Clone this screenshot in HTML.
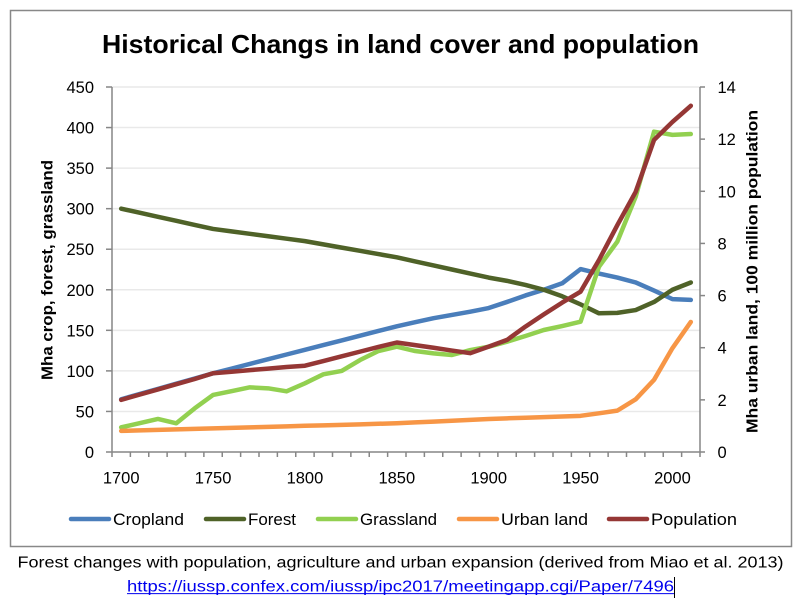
<!DOCTYPE html>
<html>
<head>
<meta charset="utf-8">
<style>
  html,body{margin:0;padding:0;background:#fff;}
  svg{display:block;}
  text{font-family:"Liberation Sans",sans-serif;fill:#000;}
</style>
</head>
<body>
<svg width="800" height="602" viewBox="0 0 800 602" xmlns="http://www.w3.org/2000/svg">
  <rect x="0" y="0" width="800" height="602" fill="#fff"/>
  <!-- chart border -->
  <rect x="10.5" y="10.5" width="781" height="536" fill="#fff" stroke="#888" stroke-width="1.5"/>

  <!-- title -->
  <text x="400.5" y="53" font-size="26" font-weight="bold" text-anchor="middle" textLength="597" lengthAdjust="spacingAndGlyphs">Historical Changs in land cover and population</text>

  <!-- gridlines -->
  <g stroke="#e9e9e9" stroke-width="1.5">
    <line x1="112" y1="87" x2="700" y2="87"/>
    <line x1="112" y1="127.56" x2="700" y2="127.56"/>
    <line x1="112" y1="168.11" x2="700" y2="168.11"/>
    <line x1="112" y1="208.67" x2="700" y2="208.67"/>
    <line x1="112" y1="249.22" x2="700" y2="249.22"/>
    <line x1="112" y1="289.78" x2="700" y2="289.78"/>
    <line x1="112" y1="330.33" x2="700" y2="330.33"/>
    <line x1="112" y1="370.89" x2="700" y2="370.89"/>
    <line x1="112" y1="411.44" x2="700" y2="411.44"/>
  </g>

  <!-- axes -->
  <g stroke="#868686" stroke-width="1.5" fill="none">
    <line x1="112" y1="87" x2="112" y2="452"/>
    <line x1="700" y1="87" x2="700" y2="452"/>
    <line x1="112" y1="452" x2="700" y2="452"/>
    <!-- left ticks -->
    <line x1="106" y1="87" x2="112" y2="87"/>
    <line x1="106" y1="127.56" x2="112" y2="127.56"/>
    <line x1="106" y1="168.11" x2="112" y2="168.11"/>
    <line x1="106" y1="208.67" x2="112" y2="208.67"/>
    <line x1="106" y1="249.22" x2="112" y2="249.22"/>
    <line x1="106" y1="289.78" x2="112" y2="289.78"/>
    <line x1="106" y1="330.33" x2="112" y2="330.33"/>
    <line x1="106" y1="370.89" x2="112" y2="370.89"/>
    <line x1="106" y1="411.44" x2="112" y2="411.44"/>
    <line x1="106" y1="452" x2="112" y2="452"/>
    <!-- right ticks -->
    <line x1="700" y1="87" x2="705" y2="87"/>
    <line x1="700" y1="139.14" x2="705" y2="139.14"/>
    <line x1="700" y1="191.29" x2="705" y2="191.29"/>
    <line x1="700" y1="243.43" x2="705" y2="243.43"/>
    <line x1="700" y1="295.57" x2="705" y2="295.57"/>
    <line x1="700" y1="347.71" x2="705" y2="347.71"/>
    <line x1="700" y1="399.86" x2="705" y2="399.86"/>
    <line x1="700" y1="452" x2="705" y2="452"/>
    <!-- x ticks -->
    <path d="M112 452v5M130.375 452v5M148.75 452v5M167.125 452v5M185.5 452v5M203.875 452v5M222.25 452v5M240.625 452v5M259 452v5M277.375 452v5M295.75 452v5M314.125 452v5M332.5 452v5M350.875 452v5M369.25 452v5M387.625 452v5M406 452v5M424.375 452v5M442.75 452v5M461.125 452v5M479.5 452v5M497.875 452v5M516.25 452v5M534.625 452v5M553 452v5M571.375 452v5M589.75 452v5M608.125 452v5M626.5 452v5M644.875 452v5M663.25 452v5M681.625 452v5M700 452v5"/>
  </g>

  <!-- left tick labels -->
  <g font-size="16.5" text-anchor="end">
    <text x="94" y="93">450</text>
    <text x="94" y="133.56">400</text>
    <text x="94" y="174.11">350</text>
    <text x="94" y="214.67">300</text>
    <text x="94" y="255.22">250</text>
    <text x="94" y="295.78">200</text>
    <text x="94" y="336.33">150</text>
    <text x="94" y="376.89">100</text>
    <text x="94" y="417.44">50</text>
    <text x="94" y="458">0</text>
  </g>
  <!-- right tick labels -->
  <g font-size="16.5" text-anchor="start">
    <text x="717.5" y="93">14</text>
    <text x="717.5" y="145.14">12</text>
    <text x="717.5" y="197.29">10</text>
    <text x="717.5" y="249.43">8</text>
    <text x="717.5" y="301.57">6</text>
    <text x="717.5" y="353.71">4</text>
    <text x="717.5" y="405.86">2</text>
    <text x="717.5" y="458">0</text>
  </g>
  <!-- x labels -->
  <g font-size="16.5" text-anchor="middle">
    <text x="121.19" y="483.5">1700</text>
    <text x="213.06" y="483.5">1750</text>
    <text x="304.94" y="483.5">1800</text>
    <text x="396.81" y="483.5">1850</text>
    <text x="488.69" y="483.5">1900</text>
    <text x="580.56" y="483.5">1950</text>
    <text x="672.44" y="483.5">2000</text>
  </g>

  <!-- axis titles -->
  <text transform="translate(52.5,270) rotate(-90)" font-size="15.5" font-weight="bold" text-anchor="middle" textLength="220" lengthAdjust="spacingAndGlyphs">Mha crop, forest, grassland</text>
  <text transform="translate(757.5,271.5) rotate(-90)" font-size="15.5" font-weight="bold" text-anchor="middle" textLength="323" lengthAdjust="spacingAndGlyphs">Mha urban land, 100 million population</text>

  <!-- series (left axis) -->
  <g transform="translate(121.1875,452) scale(1.8375,-0.811111)" fill="none" stroke-width="4.5" stroke-linejoin="round" stroke-linecap="round">
    <polyline vector-effect="non-scaling-stroke" stroke="#4A7EBB" points="0,65 10,71.4 20,77.8 30,84.2 40,90.6 50,97 60,102.8 70,108.6 80,114.4 90,120.2 100,126 110,131.8 120,137.6 130,143.4 140,149.2 150,155 160,160 170,165 180,169 190,173 200,177.5 210,185 220,193 230,200 240,208 250,225.5 260,220 270,215 280,209 290,199 300,188.5 310,187.5"/>
    <polyline vector-effect="non-scaling-stroke" stroke="#4F6228" points="0,300 10,295 20,290 30,285 40,280 50,275 60,272 70,269 80,266 90,263 100,260 110,256 120,252 130,248 140,244 150,240 160,235 170,230 180,225 190,220 200,215 210,211 220,206 230,200 240,192 250,182 260,171 270,171.5 280,175 290,185 300,200 310,209"/>
    <polyline vector-effect="non-scaling-stroke" stroke="#92D050" points="0,30.4 10,35.5 20,40.7 30,35.4 40,53.8 50,70.3 60,75 70,79.7 80,78.5 90,74.8 100,84.7 110,95.8 120,99.9 130,113.4 140,124.5 150,129.8 160,124.5 170,121.6 180,119.6 190,125.7 200,129.8 210,136 220,143 230,150.4 240,155.3 250,160.7 260,228.4 270,259.3 280,314.8 290,394.9 300,391 310,392"/>
    <polyline vector-effect="non-scaling-stroke" stroke="#F79646" points="0,26 10,26.6 20,27.3 30,27.9 40,28.5 50,29.1 60,29.8 70,30.4 80,31 90,31.6 100,32.3 110,32.9 120,33.5 130,34.1 140,34.8 150,35.4 160,36.5 170,37.5 180,38.6 190,39.6 200,40.7 210,41.5 220,42.3 230,43 240,43.8 250,44.6 260,47.7 270,51 280,65 290,89 300,128 310,160.3"/>
  </g>
  <!-- population (right axis) -->
  <g transform="translate(121.1875,452) scale(1.8375,-26.071429)" fill="none" stroke-width="4.5" stroke-linejoin="round" stroke-linecap="round">
    <polyline vector-effect="non-scaling-stroke" stroke="#953735" points="0,2.0 10,2.2 20,2.4 30,2.6 40,2.8 50,3.02 60,3.08 70,3.14 80,3.2 90,3.26 100,3.31 110,3.49 120,3.67 130,3.85 140,4.03 150,4.2 160,4.1 170,4.0 180,3.89 190,3.79 200,4.04 210,4.3 220,4.81 230,5.28 240,5.73 250,6.15 260,7.36 270,8.7 280,9.98 290,11.97 300,12.66 310,13.28"/>
  </g>

  <!-- legend -->
  <g stroke-width="4.5" stroke-linecap="round">
    <line x1="71" y1="519" x2="109" y2="519" stroke="#4A7EBB"/>
    <line x1="206" y1="519" x2="244" y2="519" stroke="#4F6228"/>
    <line x1="318" y1="519" x2="356" y2="519" stroke="#92D050"/>
    <line x1="459" y1="519" x2="497" y2="519" stroke="#F79646"/>
    <line x1="609" y1="519" x2="647" y2="519" stroke="#953735"/>
  </g>
  <g font-size="17">
    <text x="113" y="525" textLength="71" lengthAdjust="spacingAndGlyphs">Cropland</text>
    <text x="248" y="525" textLength="48" lengthAdjust="spacingAndGlyphs">Forest</text>
    <text x="360" y="525" textLength="77" lengthAdjust="spacingAndGlyphs">Grassland</text>
    <text x="501" y="525" textLength="87" lengthAdjust="spacingAndGlyphs">Urban land</text>
    <text x="651" y="525" textLength="86" lengthAdjust="spacingAndGlyphs">Population</text>
  </g>

  <!-- caption -->
  <text x="17.5" y="567.5" font-size="15.5" textLength="766" lengthAdjust="spacingAndGlyphs">Forest changes with population, agriculture and urban expansion (derived from Miao et al. 2013)</text>
  <text x="127" y="591.5" font-size="15.5" style="fill:#0000EE" textLength="547" lengthAdjust="spacingAndGlyphs">https://iussp.confex.com/iussp/ipc2017/meetingapp.cgi/Paper/7496</text>
  <line x1="127" y1="593.6" x2="674" y2="593.6" stroke="#0000EE" stroke-width="1"/>
  <line x1="674.5" y1="577" x2="674.5" y2="598" stroke="#000" stroke-width="1"/>
</svg>
</body>
</html>
